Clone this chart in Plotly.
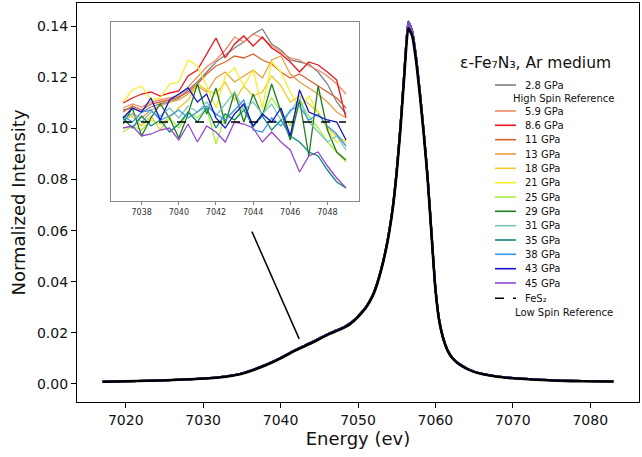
import plotly.graph_objects as go

# ---------------- data ----------------
pressures = ["2.8 GPa", "5.9 GPa", "8.6 GPa", "11 GPa", "13 GPa", "18 GPa", "21 GPa",
             "25 GPa", "29 GPa", "31 GPa", "35 GPa", "38 GPa", "43 GPa", "45 GPa"]
colors = ["#808080", "#f08a64", "#e8141c", "#d9622b", "#e8a040", "#f0c828", "#f6ee2c",
          "#a8f040", "#1e7e1e", "#78c8b8", "#108878", "#3a96e8", "#1414c8", "#9448d0"]
ref_label = "FeS\u2082"
title_text = "\u03b5-Fe\u2087N\u2083, Ar medium"

# main spectra (Energy in eV, normalized intensity)
energy_main = [7017, 7020, 7023, 7026, 7029, 7032, 7035, 7038, 7040, 7042, 7044, 7046,
               7047, 7048, 7048.5, 7049, 7049.5, 7050, 7050.5, 7051, 7051.5, 7052, 7052.5,
               7053, 7053.5, 7054, 7054.5, 7055, 7055.5, 7056, 7056.5, 7057, 7057.5, 7058,
               7058.5, 7059, 7059.5, 7060, 7060.5, 7061, 7061.5, 7062, 7062.5, 7063, 7064,
               7065, 7066, 7068, 7070, 7073, 7076, 7079, 7083]
sample_spectrum = [0.0008, 0.0010, 0.0012, 0.0015, 0.0019, 0.0026, 0.0041, 0.0074, 0.0102,
                   0.0134, 0.0163, 0.0194, 0.0207, 0.0220, 0.0228, 0.0238, 0.0250, 0.0265,
                   0.0282, 0.0300, 0.0324, 0.0354, 0.0397, 0.0450, 0.0513, 0.0593, 0.0694,
                   0.0835, 0.1015, 0.1228, 0.1418, 0.1380, 0.1280, 0.1140, 0.0985, 0.0808,
                   0.0588, 0.0375, 0.0248, 0.0180, 0.0137, 0.0110, 0.0093, 0.0080, 0.0062,
                   0.0048, 0.0040, 0.0029, 0.0023, 0.0017, 0.0013, 0.0011, 0.0010]
fes2_spectrum = [0.0008, 0.0010, 0.0012, 0.0015, 0.0019, 0.0025, 0.0040, 0.0072, 0.0100,
                 0.0132, 0.0160, 0.0191, 0.0204, 0.0217, 0.0225, 0.0235, 0.0247, 0.0262,
                 0.0279, 0.0297, 0.0321, 0.0351, 0.0393, 0.0446, 0.0509, 0.0588, 0.0688,
                 0.0828, 0.1005, 0.1215, 0.1392, 0.1362, 0.1265, 0.1128, 0.0975, 0.0800,
                 0.0582, 0.0371, 0.0245, 0.0178, 0.0135, 0.0108, 0.0091, 0.0078, 0.0060,
                 0.0047, 0.0039, 0.0028, 0.0022, 0.0016, 0.0012, 0.0010, 0.0009]

# inset: Kbeta' region, difference intensity (arbitrary units, FeS2 = 0)
energy_inset = [7037, 7037.5, 7038, 7038.5, 7039, 7039.5, 7040, 7040.5, 7041, 7041.5, 7042,
                7042.5, 7043, 7043.5, 7044, 7044.5, 7045, 7045.5, 7046, 7046.5, 7047,
                7047.5, 7048, 7048.5, 7049]
inset_2p8 = [12, 14, 10, 15, 18, 20, 24, 32, 40, 50, 60, 67, 74, 80, 88, 93, 78, 72, 62, 60, 58, 50, 38, 20, 8]
inset_5p9 = [14, 18, 15, 20, 22, 24, 26, 35, 45, 55, 62, 72, 85, 80, 88, 84, 76, 70, 64, 62, 56, 52, 46, 38, 28]
inset_8p6 = [19, 24, 28, 30, 26, 29, 31, 46, 52, 68, 84, 64, 78, 86, 76, 85, 74, 68, 60, 50, 60, 57, 50, 42, 4]
inset_11 = [10, 16, 12, 18, 20, 22, 25, 30, 38, 48, 56, 60, 66, 64, 68, 62, 58, 50, 44, 48, 42, 36, 30, 24, 14]
inset_13 = [5, 8, 4, 12, 16, 20, 22, 28, 36, 30, 44, 50, 40, 46, 52, 44, 62, 66, 48, 40, 34, 28, 20, 10, 4]
inset_18 = [2, 6, -4, 6, -8, 4, 14, 22, 38, 32, 28, 40, 22, 36, 26, 30, 46, 36, 20, 26, 18, 10, -6, -14, -20]
inset_21 = [20, 32, 36, 22, 24, 38, 40, 62, 56, 36, 14, 46, 54, 36, 52, 14, 60, 50, 30, 14, 26, 10, -8, -20, -18]
inset_25 = [-10, -4, -8, 2, -2, 4, -6, 10, 4, 14, -22, 6, 2, 16, -6, 8, 24, 10, -4, 20, 6, -6, -20, -30, -40]
inset_29 = [-2, 14, -14, 4, 18, 4, -16, 8, 38, 8, 34, -2, 30, 0, 28, 6, 38, 10, -18, 22, -34, 36, -8, -30, -38]
inset_31 = [2, 8, 0, 10, 6, 14, 4, 16, 10, 20, 6, 18, 30, 12, 20, 8, 18, 2, 10, 24, 0, -10, -20, -14, -28]
inset_35 = [4, -6, 6, -4, 2, -10, -2, 10, 0, 14, -6, 8, 2, 12, -4, 6, -8, 2, -14, -20, -30, -34, -48, -60, -66]
inset_38 = [6, 0, 10, 12, 2, 6, 12, 4, 10, 16, 8, 2, 12, 22, -8, -10, 4, -4, 12, 16, 2, 8, -4, -12, -24]
inset_43 = [4, 14, 10, 24, 2, 22, 28, 34, 20, 28, 4, -6, 8, 18, -4, 8, 0, 14, -14, 32, 10, 6, 2, 0, -18]
inset_45 = [-6, -4, -14, -12, -8, -6, -18, -2, -20, -4, -10, -20, 0, -2, -6, -20, -10, -20, -28, -50, -34, -30, -44, -56, -66]
inset_fes2 = [0] * len(energy_inset)
inset_series = [inset_2p8, inset_5p9, inset_8p6, inset_11, inset_13, inset_18, inset_21,
                inset_25, inset_29, inset_31, inset_35, inset_38, inset_43, inset_45]

# ---------------- layout geometry (pixels) ----------------
W, H = 642, 457
L, R, T, B = 77, 3, 3, 55
PW, PH = W - L - R, H - T - B


def px(x):
    return (x - L) / PW


def py(y):
    return (H - B - y) / PH


FONT = "DejaVu Sans"
LEG_SIZE = 10

fig = go.Figure()

# main plot curves
for name, col in zip(pressures, colors):
    fig.add_trace(go.Scatter(x=energy_main, y=sample_spectrum, mode="lines",
                             line=dict(color=col, width=2, shape="spline", smoothing=0.5),
                             name=name, showlegend=False, xaxis="x", yaxis="y"))
fig.add_trace(go.Scatter(x=energy_main, y=fes2_spectrum, mode="lines",
                         line=dict(color="black", width=2.6, shape="spline", smoothing=0.5),
                         name=ref_label, showlegend=False, xaxis="x", yaxis="y"))

# inset curves
for name, col, vals in zip(pressures, colors, inset_series):
    fig.add_trace(go.Scatter(x=energy_inset, y=vals, mode="lines",
                             line=dict(color=col, width=1.3), name=name, showlegend=False,
                             xaxis="x2", yaxis="y2"))
fig.add_trace(go.Scatter(x=energy_inset, y=inset_fes2, mode="lines",
                         line=dict(color="black", width=1.5, dash="dash"), name=ref_label,
                         showlegend=False, xaxis="x2", yaxis="y2"))

shapes = []
annotations = []

# connector line from inset to the spectrum
shapes.append(dict(type="line", xref="x", yref="y", x0=7036.3, y0=0.0596, x1=7042.4, y1=0.0176,
                   line=dict(color="black", width=1.5)))

# manual legend
annotations.append(dict(text=title_text, xref="paper", yref="paper", x=px(535), y=py(63),
                        showarrow=False, xanchor="center", yanchor="middle",
                        font=dict(family=FONT, size=15.5, color="#111")))
legend_rows = [85, 111, 125.3, 139.7, 154, 168.3, 182.7, 197, 211.3, 225.7, 240, 254.3, 268.7, 283]
for name, col, yy in zip(pressures, colors, legend_rows):
    shapes.append(dict(type="line", xref="paper", yref="paper", x0=px(495), x1=px(516),
                       y0=py(yy), y1=py(yy), line=dict(color=col, width=1.6)))
    annotations.append(dict(text=name, xref="paper", yref="paper", x=px(523), y=py(yy),
                            showarrow=False, xanchor="left", yanchor="middle",
                            font=dict(family=FONT, size=LEG_SIZE, color="#111")))
annotations.append(dict(text="High Spin Reference", xref="paper", yref="paper", x=px(511), y=py(98),
                        showarrow=False, xanchor="left", yanchor="middle",
                        font=dict(family=FONT, size=LEG_SIZE, color="#111")))
shapes.append(dict(type="line", xref="paper", yref="paper", x0=px(495), x1=px(516),
                   y0=py(298.3), y1=py(298.3), line=dict(color="black", width=1.6, dash="dash")))
annotations.append(dict(text=ref_label, xref="paper", yref="paper", x=px(523), y=py(298.3),
                        showarrow=False, xanchor="left", yanchor="middle",
                        font=dict(family=FONT, size=LEG_SIZE, color="#111")))
annotations.append(dict(text="Low Spin Reference", xref="paper", yref="paper", x=px(513), y=py(312.3),
                        showarrow=False, xanchor="left", yanchor="middle",
                        font=dict(family=FONT, size=LEG_SIZE, color="#111")))

# inset frame background
shapes.append(dict(type="rect", xref="paper", yref="paper", x0=px(111), x1=px(359),
                   y0=py(201), y1=py(22), fillcolor="white", line=dict(width=0), layer="below"))

fig.update_layout(
    width=W, height=H,
    margin=dict(l=L, r=R, t=T, b=B, autoexpand=False),
    paper_bgcolor="white", plot_bgcolor="white",
    showlegend=False,
    font=dict(family=FONT, color="#111"),
    xaxis=dict(range=[7013.7, 7086.3], tickvals=[7020, 7030, 7040, 7050, 7060, 7070, 7080],
               automargin=False,
               showline=True, linecolor="black", linewidth=1.2, mirror=True,
               ticks="outside", ticklen=5, tickcolor="black", showgrid=False, zeroline=False,
               tickfont=dict(size=14, family=FONT),
               title=dict(text="Energy (ev)", font=dict(size=18, family=FONT), standoff=5)),
    yaxis=dict(range=[-0.0071, 0.1491], tickvals=[0, 0.02, 0.04, 0.06, 0.08, 0.10, 0.12, 0.14],
               tickformat=".2f", automargin=False,
               showline=True, linecolor="black", linewidth=1.2, mirror=True,
               ticks="outside", ticklen=5, tickcolor="black", showgrid=False, zeroline=False,
               tickfont=dict(size=14, family=FONT),
               title=dict(text="Normalized Intensity", font=dict(size=18, family=FONT), standoff=6)),
    xaxis2=dict(domain=[px(111), px(359)], anchor="y2", range=[7036.35, 7049.7],
                tickvals=[7038, 7040, 7042, 7044, 7046, 7048], automargin=False,
                showline=True, linecolor="#888", linewidth=1, mirror=True,
                ticks="outside", ticklen=3, tickcolor="#888", showgrid=False, zeroline=False,
                tickfont=dict(size=8, family=FONT, color="#333")),
    yaxis2=dict(domain=[py(201), py(22)], anchor="x2", range=[-79, 100], automargin=False,
                showline=True, linecolor="#888", linewidth=1, mirror=True,
                showticklabels=False, ticks="", showgrid=False, zeroline=False),
    shapes=shapes,
    annotations=annotations,
)

fig.write_html("out.html", config={"displayModeBar": False},
               post_script="document.body.style.margin='0';document.body.style.overflow='hidden';")
